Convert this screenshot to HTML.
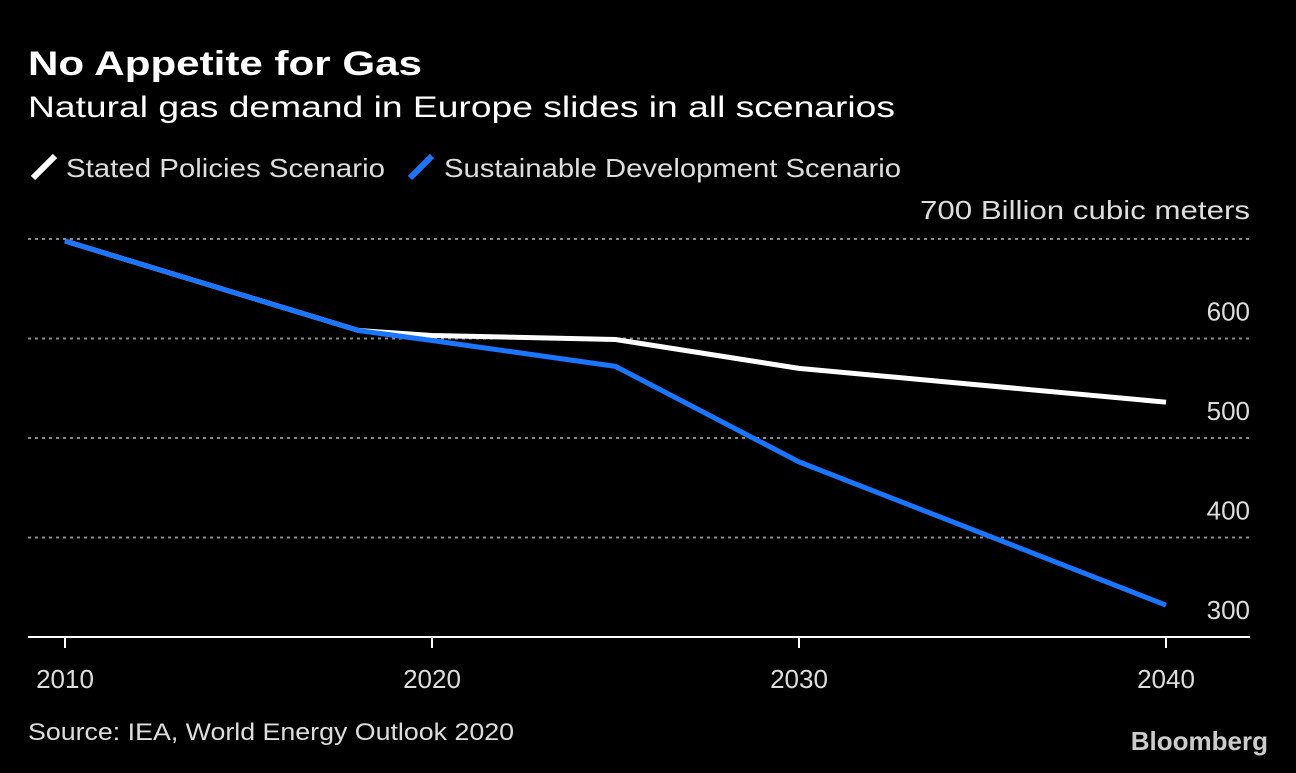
<!DOCTYPE html>
<html><head><meta charset="utf-8"><style>
body{margin:0;background:#000;width:1296px;height:768px;overflow:hidden;font-family:"Liberation Sans",sans-serif;color:#fff}
</style></head><body>
<svg width="1296" height="768">
<text x="28" y="75" font-size="34" font-weight="bold" fill="#fff" textLength="394" lengthAdjust="spacingAndGlyphs">No Appetite for Gas</text>
<text x="28" y="117" font-size="30" fill="#fff" textLength="867" lengthAdjust="spacingAndGlyphs">Natural gas demand in Europe slides in all scenarios</text>
<g><line x1="33" y1="178" x2="55" y2="156" stroke="#fff" stroke-width="6"/><text x="66" y="177" font-size="26" fill="#ddd" textLength="319" lengthAdjust="spacingAndGlyphs">Stated Policies Scenario</text></g>
<g><line x1="410" y1="178" x2="432" y2="156" stroke="#1a75ff" stroke-width="6"/><text x="444" y="177" font-size="26" fill="#ddd" textLength="457" lengthAdjust="spacingAndGlyphs">Sustainable Development Scenario</text></g>
<text x="920" y="219" font-size="26" fill="#ddd" textLength="330" lengthAdjust="spacingAndGlyphs">700 Billion cubic meters</text>
<g id="grid"></g><g id="series"></g>
<text x="28" y="740" font-size="24" fill="#ddd" textLength="486" lengthAdjust="spacingAndGlyphs">Source: IEA, World Energy Outlook 2020</text>
<text x="1268" y="750" font-size="26" font-weight="bold" fill="#ccc" text-anchor="end">Bloomberg</text>
</svg>
<script>
const years=[2010,2018,2020,2025,2030,2040];
const stated=[698,608,603,599,570,536];
const sustainable=[698,608,598,572,476,332];
const yTicks=[300,400,500,600];
const xTicks=[2010,2020,2030,2040];
const ns="http://www.w3.org/2000/svg";
const X=y=>65+(y-2010)*(1166-65)/30;
const Y=v=>637-(v-300)*(637-239)/400;
const grid=document.getElementById('grid'),ser=document.getElementById('series');
function mk(p,tag,a){const e=document.createElementNS(ns,tag);for(const k in a)e.setAttribute(k,a[k]);p.appendChild(e);return e;}
[...yTicks,700].forEach(v=>{if(v===300)return;const l=mk(grid,'line',{x1:28,x2:1250,y1:Y(v),y2:Y(v),stroke:'#888','stroke-width':2,'stroke-dasharray':'3,4'});

});
yTicks.forEach(v=>{const t=mk(grid,'text',{x:1250,y:Y(v)-18,'font-size':26,fill:'#ddd','text-anchor':'end'});t.textContent=v;

});
const ax=mk(grid,'line',{x1:28,x2:1250,y1:Y(300),y2:Y(300),stroke:'#fff','stroke-width':2});


xTicks.forEach(y=>{const tk=mk(grid,'line',{x1:X(y),x2:X(y),y1:Y(300),y2:Y(300)+11,stroke:'#fff','stroke-width':2});


const t=mk(grid,'text',{x:X(y),y:688,'font-size':26,fill:'#ddd','text-anchor':'middle'});t.textContent=y;

});
function line(vals,col,name){const p=mk(ser,'polyline',{points:years.map((y,i)=>X(y)+','+Y(vals[i])).join(' '),fill:'none',stroke:col,'stroke-width':5,'stroke-linejoin':'round'});

}
line(stated,'#fff','stated-policies-line');
line(sustainable,'#1a75ff','sustainable-development-line');
</script>
</body></html>
